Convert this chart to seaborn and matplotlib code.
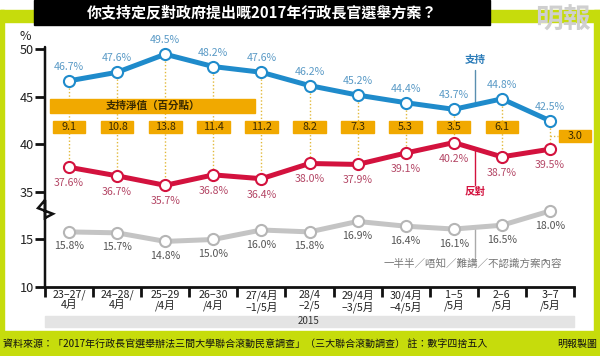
import numpy as np
import pandas as pd
import matplotlib
matplotlib.use("Agg")
import matplotlib.pyplot as plt
import matplotlib.transforms as mtransforms
from matplotlib.patches import Rectangle
import seaborn as sns

sns.set_style("white")
plt.rcParams['font.family'] = ['Noto Sans CJK TC', 'DejaVu Sans']

# ---------------- data ----------------
categories = ["23–27/\n4月", "24–28/\n4月", "25–29\n/4月", "26–30\n/4月", "27/4月\n–1/5月",
              "28/4\n–2/5", "29/4月\n–3/5月", "30/4月\n–4/5月", "1–5\n/5月", "2–6\n/5月", "3–7\n/5月"]
support = [46.7, 47.6, 49.5, 48.2, 47.6, 46.2, 45.2, 44.4, 43.7, 44.8, 42.5]
oppose = [37.6, 36.7, 35.7, 36.8, 36.4, 38.0, 37.9, 39.1, 40.2, 38.7, 39.5]
undecided = [15.8, 15.7, 14.8, 15.0, 16.0, 15.8, 16.9, 16.4, 16.1, 16.5, 18.0]
net_support = ["9.1", "10.8", "13.8", "11.4", "11.2", "8.2", "7.3", "5.3", "3.5", "6.1", "3.0"]
ytick_values = [10, 15, 35, 40, 45, 50]

BREAK_SHIFT = 15  # values below the axis break are drawn 15 units higher

df = pd.DataFrame({
    "idx": np.arange(len(categories)),
    "support": support,
    "oppose": oppose,
    "undecided": undecided,
})
df["undecided_plot"] = df["undecided"] + BREAK_SHIFT

BLUE = "#1f8bcb"
RED = "#d3123e"
GRAY = "#c4c4c4"
BLUE_T = "#5a9ac6"
RED_T = "#b44766"
GRAY_T = "#555555"
ORANGE = "#f1a900"
LIME = "#c6dc0c"

fig = plt.figure(figsize=(6, 3.56), dpi=100)
W, H = 600, 356

def fx(px):
    return px / W

def fy(py):
    return 1 - py / H

# frame decorations
fig.patches.append(Rectangle((0, fy(22)), 1, fy(10) - fy(22), transform=fig.transFigure, color=LIME, zorder=0))
fig.patches.append(Rectangle((0, 0), 1, fy(331), transform=fig.transFigure, color=LIME, zorder=0))
fig.patches.append(Rectangle((0, 0), fx(4), fy(10), transform=fig.transFigure, color=LIME, zorder=0))
fig.patches.append(Rectangle((fx(594), 0), fx(6), fy(10), transform=fig.transFigure, color=LIME, zorder=0))
fig.patches.append(Rectangle((fx(34), fy(25)), fx(456), fy(0) - fy(25), transform=fig.transFigure, color="black", zorder=1))
fig.text(fx(262), fy(12.5), "你支持定反對政府提出嘅2017年行政長官選舉方案？", color="white",
         fontsize=10.8, fontweight="bold", ha="center", va="center", zorder=2)
fig.text(fx(563), fy(21), "明報", color="#cfcfcf", fontsize=20, fontweight="bold",
         ha="center", va="center", style="italic", zorder=2)

# 2015 band
fig.patches.append(Rectangle((fx(45), fy(327)), fx(529), fy(316) - fy(327), transform=fig.transFigure,
                             color="#e4e4e4", zorder=0))
fig.text(fx(309), fy(321.5), "2015", fontsize=7, ha="center", va="center", color="#333333")

# source line
fig.text(fx(3), fy(344), "資料來源：「2017年行政長官選舉辦法三間大學聯合滾動民意調查」（三大聯合滾動調查） 註：數字四捨五入",
         fontsize=7.2, ha="left", va="center", color="#111111")
fig.text(fx(597), fy(344), "明報製圖", fontsize=7.2, ha="right", va="center", color="#111111")

ax = fig.add_axes([fx(45), fy(287), fx(529), (287 - 47) / H])
ax.set_xlim(-0.5, 10.5)
ax.set_ylim(25, 50.26)

# dotted connectors
for i in range(len(categories)):
    ax.plot([i, i], [support[i], oppose[i]], color="#e2b93a", ls=(0, (1, 1.5)), lw=1, zorder=1)
ax.plot([10, 10.17], [40.9, 40.9], color="#e2b93a", ls=(0, (1, 1.5)), lw=1, zorder=1, clip_on=False)

common = dict(marker="o", markersize=8, markerfacecolor="white", markeredgewidth=1.5, linewidth=3.6)
sns.lineplot(data=df, x="idx", y="support", color=BLUE, markeredgecolor=BLUE, ax=ax, zorder=4, clip_on=False, **common)
sns.lineplot(data=df, x="idx", y="oppose", color=RED, markeredgecolor=RED, ax=ax, zorder=4, clip_on=False, **common)
sns.lineplot(data=df, x="idx", y="undecided_plot", color=GRAY, markeredgecolor="#b5b5b5", ax=ax, zorder=4, clip_on=False, **common)

LBL = 7.6
for i in range(len(categories)):
    ax.annotate(f"{support[i]:.1f}%", (i, support[i]), xytext=(0, 10), textcoords="offset points",
                ha="center", va="center", fontsize=LBL, color=BLUE_T, zorder=5, annotation_clip=False)
    ax.annotate(f"{oppose[i]:.1f}%", (i, oppose[i]), xytext=(0, -11.5), textcoords="offset points",
                ha="center", va="center", fontsize=LBL, color=RED_T, zorder=5)
    ax.annotate(f"{undecided[i]:.1f}%", (i, df['undecided_plot'][i]), xytext=(0, -10.5), textcoords="offset points",
                ha="center", va="center", fontsize=LBL, color=GRAY_T, zorder=5)

# net support boxes
bw, bh = 0.68, 1.3
for i, v in enumerate(net_support):
    if i == len(net_support) - 1:
        cx, cy = 10.52, 40.9
    else:
        cx, cy = i, 41.84
    ax.add_patch(Rectangle((cx - bw / 2, cy - bh / 2), bw, bh, color=ORANGE, zorder=3, clip_on=False))
    ax.text(cx, cy, v, ha="center", va="center", fontsize=7.8, color="#3a2a00", zorder=6, clip_on=False)

ax.add_patch(Rectangle((-0.39, 43.3), 4.26, 1.5, color=ORANGE, zorder=3))
ax.text(1.74, 44.05, "支持淨值（百分點）", ha="center", va="center", fontsize=7.6, color="#3a2a00",
        fontweight="bold", zorder=6)

# series annotations
xa = 8.45
ax.plot([xa, xa], [44.2, 47.8], color="#5a8fb0", lw=1, zorder=2)
ax.text(xa, 48.9, "支持", color="#2a7bb8", fontsize=7.6, ha="center", va="center", fontweight="bold")
ax.plot([xa, xa], [39.5, 35.7], color=RED, lw=1, zorder=2)
ax.text(xa, 35.0, "反對", color=RED, fontsize=7.6, ha="center", va="center", fontweight="bold")
ax.plot([xa, xa], [16.28 + BREAK_SHIFT, 28.2], color="#aaaaaa", lw=1, zorder=2)
ax.text(8.4, 27.5, "一半半／唔知／難講／不認識方案內容", color="#777777", fontsize=7.6, ha="center", va="center")

# axes styling
for s in ["top", "right", "left"]:
    ax.spines[s].set_visible(False)
ax.spines["bottom"].set_linewidth(2)
ax.spines["bottom"].set_color("#111111")

# left spine with break zigzag
trans = mtransforms.blended_transform_factory(ax.transAxes, ax.transData)
zx = [0, 0, -0.0132, 0.015, 0, 0]
zy = [25, 34.16, 33.3, 32.7, 32.26, 50.26]
ax.plot(zx, zy, transform=trans, color="#111111", lw=1.8, clip_on=False, zorder=6, solid_joinstyle="miter")

tick_pos = [v + BREAK_SHIFT if v < 30 else v for v in ytick_values]
ax.set_yticks(tick_pos)
ax.set_yticklabels([str(v) for v in ytick_values], fontsize=9.2, color="#222222")
ax.tick_params(axis="y", length=7, width=2, color="#111111", pad=1, left=True)

ax.set_xticks(range(len(categories)))
ax.set_xticklabels(categories, fontsize=7.7, color="#222222", linespacing=1.0)
ax.set_xticks(np.arange(-0.5, len(categories), 1), minor=True)
ax.tick_params(axis="x", which="major", length=0, pad=2)
ax.tick_params(axis="x", which="minor", length=7, width=2, color="#111111", direction="out", bottom=True)
ax.set_xlabel("")
ax.set_ylabel("")

fig.text(fx(25), fy(36), "%", fontsize=9, ha="center", va="center", color="#222222")

fig.savefig("out.png", dpi=100)
